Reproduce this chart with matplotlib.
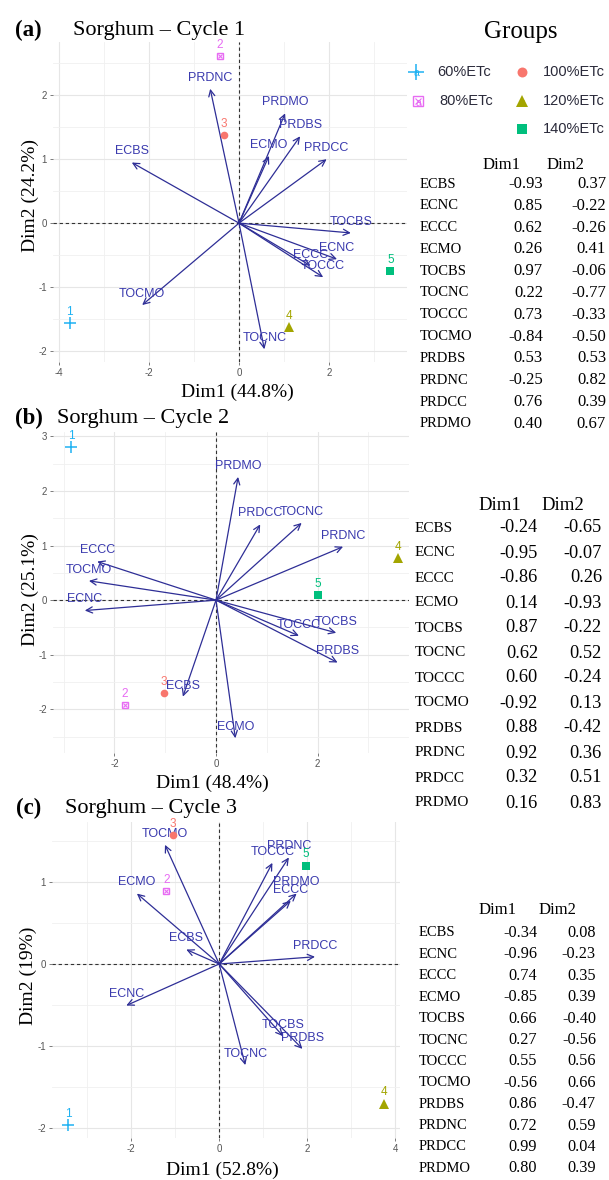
#!/usr/bin/env python3
"""PCA biplots of sorghum soil/yield variables for three cropping cycles."""

import matplotlib.pyplot as plt

plt.rcParams["font.family"] = ["Liberation Sans", "DejaVu Sans"]

W, H = 609, 1180

VARIABLES = ["ECBS", "ECNC", "ECCC", "ECMO", "TOCBS", "TOCNC",
             "TOCCC", "TOCMO", "PRDBS", "PRDNC", "PRDCC", "PRDMO"]

# variable loadings (Dim1, Dim2) per cycle
dim1_c1 = [-0.93, 0.85, 0.62, 0.26, 0.97, 0.22, 0.73, -0.84, 0.53, -0.25, 0.76, 0.40]
dim2_c1 = [0.37, -0.22, -0.26, 0.41, -0.06, -0.77, -0.33, -0.50, 0.53, 0.82, 0.39, 0.67]
dim1_c2 = [-0.24, -0.95, -0.86, 0.14, 0.87, 0.62, 0.60, -0.92, 0.88, 0.92, 0.32, 0.16]
dim2_c2 = [-0.65, -0.07, 0.26, -0.93, -0.22, 0.52, -0.24, 0.13, -0.42, 0.36, 0.51, 0.83]
dim1_c3 = [-0.34, -0.96, 0.74, -0.85, 0.66, 0.27, 0.55, -0.56, 0.86, 0.72, 0.99, 0.80]
dim2_c3 = [0.08, -0.23, 0.35, 0.39, -0.40, -0.56, 0.56, 0.66, -0.47, 0.59, 0.04, 0.39]

# individual (treatment) scores per cycle
GROUPS = ["60%ETc", "80%ETc", "100%ETc", "120%ETc", "140%ETc"]
ind_x_c1 = [-3.76, -0.42, -0.33, 1.11, 3.36]
ind_y_c1 = [-1.56, 2.61, 1.37, -1.62, -0.75]
ind_x_c2 = [-2.85, -1.79, -1.02, 3.58, 2.01]
ind_y_c2 = [2.80, -1.92, -1.70, 0.77, 0.09]
ind_x_c3 = [-3.43, -1.20, -1.05, 3.75, 1.98]
ind_y_c3 = [-1.96, 0.89, 1.57, -1.70, 1.20]

EXPL_C1 = (44.8, 24.2)
EXPL_C2 = (48.4, 25.1)
EXPL_C3 = (52.8, 19)

GROUP_COLORS = ["#1FB2F2", "#E76BF3", "#F8766D", "#A3A500", "#00BF7D"]
ARROW_COLOR = "#2E2E96"
LABEL_COLOR = "#3A3AAE"
SERIF = "Liberation Serif"


def draw_marker(ax, x, y, g, scale=1.0, **kw):
    c = GROUP_COLORS[g]
    if g == 0:
        ax.plot(x, y, "+", color=c, ms=9 * scale, mew=1.1, **kw)
    elif g == 1:
        ax.plot(x, y, "s", color=c, ms=5 * scale, mfc="none", mew=1.0, **kw)
        ax.plot(x, y, "x", color=c, ms=3.5 * scale, mew=0.8, **kw)
    elif g == 2:
        ax.plot(x, y, "o", color=c, ms=5.5 * scale, mew=0, **kw)
    elif g == 3:
        ax.plot(x, y, "^", color=c, ms=6.5 * scale, mew=0, **kw)
    else:
        ax.plot(x, y, "s", color=c, ms=5.5 * scale, mew=0, **kw)


def biplot(fig, px_box, xlim, ylim, xmajor, xminor, ymajor, yminor,
           d1, d2, scale, ix, iy):
    left, top, right, bottom = px_box
    ax = fig.add_axes([left / W, 1 - bottom / H, (right - left) / W, (bottom - top) / H])
    ax.set_xlim(*xlim)
    ax.set_ylim(*ylim)
    ax.set_xticks(xmajor)
    ax.set_xticks(xminor, minor=True)
    ax.set_yticks(ymajor)
    ax.set_yticks(yminor, minor=True)
    ax.set_xticklabels([f"{v:g}" for v in xmajor])
    ax.set_yticklabels([f"{v:g}" for v in ymajor])
    ax.grid(True, which="major", color="#E6E6E6", lw=0.8)
    ax.grid(True, which="minor", color="#F0F0F0", lw=0.6)
    ax.set_axisbelow(True)
    ax.tick_params(which="major", length=2.5, width=0.6, color="#666666",
                   labelsize=7, labelcolor="#555555", pad=2)
    ax.tick_params(which="minor", length=0)
    for s in ax.spines.values():
        s.set_visible(False)
    ax.axhline(0, color="#333333", lw=0.8, ls=(0, (3, 2.5)), zorder=1)
    ax.axvline(0, color="#333333", lw=0.8, ls=(0, (3, 2.5)), zorder=1)

    for name, a, b in zip(VARIABLES, d1, d2):
        tip = (a * scale, b * scale)
        ax.annotate("", xy=tip, xytext=(0, 0),
                    arrowprops=dict(arrowstyle="->,head_length=0.45,head_width=0.22",
                                    color=ARROW_COLOR, lw=0.9, shrinkA=0, shrinkB=0),
                    zorder=3)
        ax.annotate(name, xy=tip, xytext=(0, 8), textcoords="offset points",
                    ha="center", va="center", fontsize=9, color=LABEL_COLOR, zorder=4)

    for g, (x, y) in enumerate(zip(ix, iy)):
        draw_marker(ax, x, y, g, zorder=5)
        ax.annotate(str(g + 1), xy=(x, y), xytext=(0, 8), textcoords="offset points",
                    ha="center", va="center", fontsize=8.5, color=GROUP_COLORS[g], zorder=5)
    return ax


def loading_table(ov, x_name, x_d1, x_d2, hx1, hx2, y_head, y0, dy,
                  d1, d2, fs_name, fs_val, fs_head):
    ov.text(hx1, y_head, "Dim1", ha="center", va="center", family=SERIF, fontsize=fs_head)
    ov.text(hx2, y_head, "Dim2", ha="center", va="center", family=SERIF, fontsize=fs_head)
    for i, (name, a, b) in enumerate(zip(VARIABLES, d1, d2)):
        y = y0 + i * dy
        ov.text(x_name, y, name, ha="left", va="center", family=SERIF, fontsize=fs_name)
        ov.text(x_d1, y, f"{a:.2f}", ha="right", va="center", family=SERIF, fontsize=fs_val)
        ov.text(x_d2, y, f"{b:.2f}", ha="right", va="center", family=SERIF, fontsize=fs_val)


fig = plt.figure(figsize=(W / 100, H / 100), dpi=100)
ov = fig.add_axes([0, 0, 1, 1])
ov.set_xlim(0, W)
ov.set_ylim(H, 0)
ov.axis("off")

# panel (a)
biplot(fig, (53, 42, 407, 362), (-4.13, 3.73), (-2.17, 2.83),
       [-4, -2, 0, 2], [-3, -1, 1, 3], [-2, -1, 0, 1, 2], [-1.5, -0.5, 0.5, 1.5, 2.5],
       dim1_c1, dim2_c1, 2.56, ind_x_c1, ind_y_c1)
# panel (b)
biplot(fig, (53, 432, 409, 753), (-3.21, 3.80), (-2.80, 3.08),
       [-2, 0, 2], [-3, -1, 1, 3], [-2, -1, 0, 1, 2, 3], [-2.5, -1.5, -0.5, 0.5, 1.5, 2.5],
       dim1_c2, dim2_c2, 2.72, ind_x_c2, ind_y_c2)
# panel (c)
biplot(fig, (52, 822, 400, 1138), (-3.80, 4.11), (-2.12, 1.73),
       [-2, 0, 2, 4], [-3, -1, 1, 3], [-2, -1, 0, 1], [-1.5, -0.5, 0.5, 1.5],
       dim1_c3, dim2_c3, 2.2, ind_x_c3, ind_y_c3)

# panel titles
for tag, title, y, tx, bx in [("(a)", "Sorghum \u2013 Cycle 1", 30, 15, 73),
                              ("(b)", "Sorghum \u2013 Cycle 2", 418, 15, 57),
                              ("(c)", "Sorghum \u2013 Cycle 3", 808, 16, 65)]:
    ov.text(tx, y, tag, ha="left", va="center", family=SERIF, fontsize=16.5, fontweight="bold")
    ov.text(bx, y, title, ha="left", va="center", family=SERIF, fontsize=16)

# axis titles
for label, x, y in [(f"Dim1 ({EXPL_C1[0]}%)", 237, 392),
                    (f"Dim1 ({EXPL_C2[0]}%)", 212, 783),
                    (f"Dim1 ({EXPL_C3[0]}%)", 222, 1170)]:
    ov.text(x, y, label, ha="center", va="center", family=SERIF, fontsize=14)
for label, x, y in [(f"Dim2 ({EXPL_C1[1]}%)", 30, 195),
                    (f"Dim2 ({EXPL_C2[1]}%)", 30, 590),
                    (f"Dim2 ({EXPL_C3[1]}%)", 28, 976)]:
    ov.text(x, y, label, ha="center", va="center", rotation=90, family=SERIF, fontsize=14)

# legend
ov.text(521, 32, "Groups", ha="center", va="center", family=SERIF, fontsize=18)
legend_pos = [(416, 72), (418, 101), (522, 72), (522, 101), (522, 129)]
for g, (name, (mx, my)) in enumerate(zip(GROUPS, legend_pos)):
    draw_marker(ov, mx, my, g, scale=1.3)
    ov.text(mx + 0.5, my + 1.5, "a", ha="center", va="center", fontsize=7.5,
            color=GROUP_COLORS[g])
    ov.text(mx + 21, my, name, ha="left", va="center", fontsize=10.5, color="#2A2A3A")

# loading tables
loading_table(ov, 420, 543, 606, 502, 565, 165, 184, 21.8,
              dim1_c1, dim2_c1, 10.5, 12, 12)
loading_table(ov, 415, 538, 602, 500, 563, 505, 528, 25,
              dim1_c2, dim2_c2, 11, 13.2, 13.5)
loading_table(ov, 419, 537, 596, 498, 557, 910, 933, 21.4,
              dim1_c3, dim2_c3, 10.5, 11.7, 12)

fig.savefig("out.png", dpi=100)
